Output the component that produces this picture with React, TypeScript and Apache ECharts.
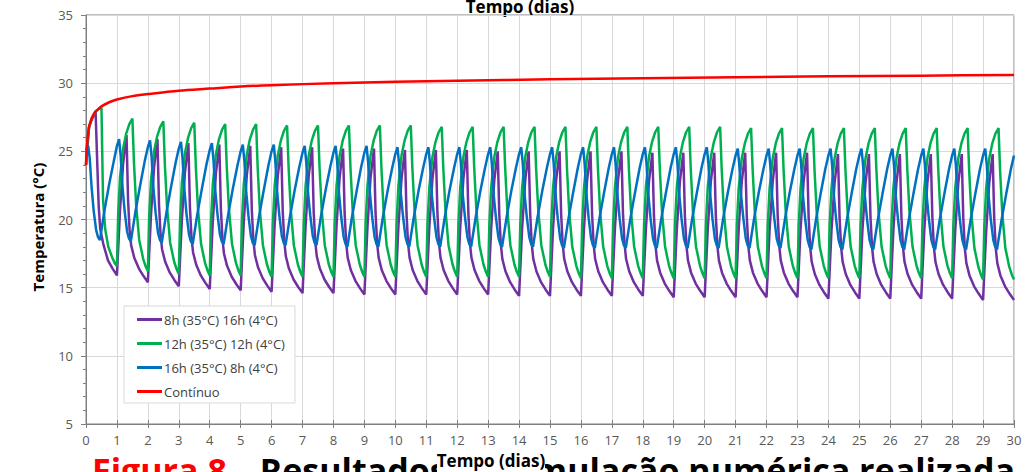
import { useEffect, useRef } from "react";
import * as echarts from "echarts";

const seriesNames = ["8h (35°C) 16h (4°C)", "12h (35°C) 12h (4°C)", "16h (35°C) 8h (4°C)", "Contínuo"];
const seriesColors = ["#7030A0", "#00B050", "#0070C0", "#FF0000"];

// position of each reading inside a day (fraction of day)
const purpleOffsets = [0, 0.1, 0.2, 0.31, 0.36, 0.41, 0.46, 0.56, 0.71, 0.86];
const purpleDays = [
  [24.0, 26.8, 27.4, 27.9, 24.4, 21.0, 19.3, 18.2, 17.0, 16.4],
  [15.9, 20.7, 24.1, 26.2, 21.4, 19.2, 18.1, 17.2, 16.4, 15.85],
  [15.4, 20.3, 23.8, 25.9, 21.1, 18.9, 17.8, 16.9, 16.1, 15.55],
  [15.1, 20.0, 23.5, 25.6, 20.9, 18.7, 17.6, 16.7, 15.9, 15.35],
  [14.9, 19.9, 23.4, 25.5, 20.8, 18.6, 17.5, 16.6, 15.8, 15.25],
  [14.8, 19.8, 23.3, 25.4, 20.7, 18.5, 17.4, 16.5, 15.7, 15.15],
  [14.7, 19.7, 23.2, 25.3, 20.6, 18.4, 17.3, 16.4, 15.6, 15.05],
  [14.6, 19.6, 23.2, 25.3, 20.6, 18.4, 17.3, 16.4, 15.6, 15.05],
  [14.6, 19.6, 23.1, 25.2, 20.5, 18.3, 17.2, 16.3, 15.5, 14.95],
  [14.5, 19.5, 23.1, 25.2, 20.5, 18.3, 17.2, 16.3, 15.5, 14.95],
  [14.5, 19.5, 23.0, 25.1, 20.5, 18.3, 17.2, 16.3, 15.5, 14.95],
  [14.5, 19.5, 23.0, 25.1, 20.5, 18.3, 17.2, 16.3, 15.5, 14.95],
  [14.5, 19.5, 23.0, 25.1, 20.5, 18.3, 17.2, 16.3, 15.5, 14.95],
  [14.5, 19.4, 22.9, 25.0, 20.4, 18.2, 17.1, 16.2, 15.4, 14.85],
  [14.4, 19.4, 22.9, 25.0, 20.4, 18.2, 17.1, 16.2, 15.4, 14.85],
  [14.4, 19.4, 22.9, 25.0, 20.4, 18.2, 17.1, 16.2, 15.4, 14.85],
  [14.4, 19.4, 22.9, 25.0, 20.4, 18.2, 17.1, 16.2, 15.4, 14.85],
  [14.4, 19.4, 22.9, 25.0, 20.4, 18.2, 17.1, 16.2, 15.4, 14.85],
  [14.4, 19.3, 22.8, 24.9, 20.3, 18.1, 17.0, 16.1, 15.3, 14.75],
  [14.3, 19.3, 22.8, 24.9, 20.3, 18.1, 17.0, 16.1, 15.3, 14.75],
  [14.3, 19.3, 22.8, 24.9, 20.3, 18.1, 17.0, 16.1, 15.3, 14.75],
  [14.3, 19.3, 22.8, 24.9, 20.3, 18.1, 17.0, 16.1, 15.3, 14.75],
  [14.3, 19.3, 22.8, 24.9, 20.3, 18.1, 17.0, 16.1, 15.3, 14.75],
  [14.3, 19.3, 22.8, 24.9, 20.2, 18.0, 16.9, 16.0, 15.2, 14.65],
  [14.2, 19.2, 22.7, 24.8, 20.2, 18.0, 16.9, 16.0, 15.2, 14.65],
  [14.2, 19.2, 22.7, 24.8, 20.2, 18.0, 16.9, 16.0, 15.2, 14.65],
  [14.2, 19.2, 22.7, 24.8, 20.2, 18.0, 16.9, 16.0, 15.2, 14.65],
  [14.2, 19.2, 22.7, 24.8, 20.2, 18.0, 16.9, 16.0, 15.2, 14.65],
  [14.2, 19.2, 22.7, 24.8, 20.1, 17.9, 16.8, 15.9, 15.1, 14.55],
  [14.1, 19.1, 22.7, 24.8, 20.1, 17.9, 16.8, 15.9, 15.1, 14.55],
];
const purpleEnd = 14.1;

const greenOffsets = [0, 0.04, 0.1, 0.2, 0.3, 0.4, 0.5, 0.55, 0.62, 0.72, 0.85, 0.93];
const greenDays = [
  [24.0, 25.6, 26.8, 27.5, 27.9, 28.1, 28.2, 21.5, 19.3, 18.0, 17.2, 16.8],
  [16.6, 20.4, 23.1, 25.2, 26.3, 27.0, 27.4, 24.2, 21.1, 18.5, 17.1, 16.55],
  [16.2, 20.1, 22.8, 25.0, 26.1, 26.8, 27.2, 24.0, 20.9, 18.3, 16.9, 16.35],
  [16.0, 19.9, 22.7, 24.9, 26.0, 26.7, 27.1, 23.9, 20.8, 18.2, 16.8, 16.25],
  [15.9, 19.8, 22.6, 24.8, 25.9, 26.6, 27.0, 23.9, 20.8, 18.2, 16.8, 16.25],
  [15.9, 19.8, 22.6, 24.8, 25.9, 26.6, 27.0, 23.8, 20.7, 18.1, 16.7, 16.15],
  [15.8, 19.7, 22.5, 24.7, 25.8, 26.5, 26.9, 23.8, 20.7, 18.1, 16.7, 16.15],
  [15.8, 19.7, 22.5, 24.7, 25.8, 26.5, 26.9, 23.8, 20.7, 18.1, 16.7, 16.15],
  [15.8, 19.7, 22.5, 24.7, 25.8, 26.5, 26.9, 23.8, 20.7, 18.1, 16.7, 16.15],
  [15.8, 19.7, 22.5, 24.7, 25.8, 26.5, 26.9, 23.8, 20.7, 18.1, 16.7, 16.15],
  [15.8, 19.7, 22.5, 24.7, 25.8, 26.5, 26.9, 23.8, 20.7, 18.1, 16.7, 16.15],
  [15.8, 19.7, 22.4, 24.6, 25.7, 26.4, 26.8, 23.8, 20.7, 18.1, 16.7, 16.15],
  [15.8, 19.7, 22.4, 24.6, 25.7, 26.4, 26.8, 23.8, 20.7, 18.1, 16.7, 16.15],
  [15.8, 19.7, 22.4, 24.6, 25.7, 26.4, 26.8, 23.8, 20.7, 18.1, 16.7, 16.15],
  [15.8, 19.7, 22.4, 24.6, 25.7, 26.4, 26.8, 23.8, 20.7, 18.1, 16.7, 16.15],
  [15.8, 19.7, 22.4, 24.6, 25.7, 26.4, 26.8, 23.7, 20.6, 18.0, 16.6, 16.05],
  [15.7, 19.6, 22.4, 24.6, 25.7, 26.4, 26.8, 23.7, 20.6, 18.0, 16.6, 16.05],
  [15.7, 19.6, 22.4, 24.6, 25.7, 26.4, 26.8, 23.7, 20.6, 18.0, 16.6, 16.05],
  [15.7, 19.6, 22.4, 24.6, 25.7, 26.4, 26.8, 23.7, 20.6, 18.0, 16.6, 16.05],
  [15.7, 19.6, 22.4, 24.6, 25.7, 26.4, 26.8, 23.7, 20.6, 18.0, 16.6, 16.05],
  [15.7, 19.6, 22.4, 24.6, 25.7, 26.4, 26.8, 23.7, 20.6, 18.0, 16.6, 16.05],
  [15.7, 19.6, 22.3, 24.5, 25.6, 26.3, 26.7, 23.7, 20.6, 18.0, 16.6, 16.05],
  [15.7, 19.6, 22.3, 24.5, 25.6, 26.3, 26.7, 23.7, 20.6, 18.0, 16.6, 16.05],
  [15.7, 19.6, 22.3, 24.5, 25.6, 26.3, 26.7, 23.7, 20.6, 18.0, 16.6, 16.05],
  [15.7, 19.6, 22.3, 24.5, 25.6, 26.3, 26.7, 23.7, 20.6, 18.0, 16.6, 16.05],
  [15.7, 19.6, 22.3, 24.5, 25.6, 26.3, 26.7, 23.7, 20.6, 18.0, 16.6, 16.05],
  [15.7, 19.6, 22.3, 24.5, 25.6, 26.3, 26.7, 23.7, 20.6, 18.0, 16.6, 16.05],
  [15.7, 19.6, 22.3, 24.5, 25.6, 26.3, 26.7, 23.7, 20.6, 18.0, 16.6, 16.05],
  [15.7, 19.6, 22.3, 24.5, 25.6, 26.3, 26.7, 23.6, 20.5, 17.9, 16.5, 15.95],
  [15.6, 19.5, 22.3, 24.5, 25.6, 26.3, 26.7, 23.6, 20.5, 17.9, 16.5, 15.95],
];
const greenEnd = 15.6;

const blueOffsets = [0, 0.07, 0.12, 0.18, 0.25, 0.33, 0.39, 0.45, 0.6, 0.75, 0.9];
const blueDays = [
  [25.1, 25.4, 24.5, 22.4, 20.6, 19.2, 18.7, 18.5, 20.7, 22.6, 24.3],
  [25.4, 25.9, 24.7, 22.4, 20.6, 19.1, 18.6, 18.4, 20.6, 22.5, 24.3],
  [25.3, 25.8, 24.6, 22.3, 20.5, 19.0, 18.5, 18.3, 20.5, 22.4, 24.2],
  [25.2, 25.7, 24.5, 22.2, 20.4, 18.9, 18.4, 18.2, 20.4, 22.3, 24.1],
  [25.1, 25.6, 24.4, 22.1, 20.4, 18.9, 18.4, 18.2, 20.4, 22.3, 24.0],
  [25.0, 25.5, 24.3, 22.0, 20.3, 18.8, 18.3, 18.1, 20.3, 22.2, 24.0],
  [25.0, 25.5, 24.3, 22.0, 20.3, 18.8, 18.3, 18.1, 20.3, 22.2, 23.9],
  [24.9, 25.4, 24.2, 21.9, 20.3, 18.8, 18.3, 18.1, 20.3, 22.2, 23.9],
  [24.9, 25.4, 24.2, 21.9, 20.2, 18.7, 18.2, 18.0, 20.2, 22.1, 23.9],
  [24.9, 25.4, 24.2, 21.9, 20.2, 18.7, 18.2, 18.0, 20.2, 22.1, 23.8],
  [24.8, 25.3, 24.1, 21.8, 20.2, 18.7, 18.2, 18.0, 20.2, 22.1, 23.8],
  [24.8, 25.3, 24.1, 21.8, 20.2, 18.7, 18.2, 18.0, 20.2, 22.1, 23.8],
  [24.8, 25.3, 24.1, 21.8, 20.2, 18.7, 18.2, 18.0, 20.2, 22.1, 23.8],
  [24.8, 25.3, 24.1, 21.8, 20.2, 18.7, 18.2, 18.0, 20.2, 22.1, 23.8],
  [24.8, 25.3, 24.1, 21.8, 20.2, 18.7, 18.2, 18.0, 20.2, 22.1, 23.8],
  [24.8, 25.3, 24.1, 21.8, 20.1, 18.6, 18.1, 17.9, 20.1, 22.0, 23.8],
  [24.8, 25.3, 24.1, 21.8, 20.1, 18.6, 18.1, 17.9, 20.1, 22.0, 23.8],
  [24.8, 25.3, 24.1, 21.8, 20.1, 18.6, 18.1, 17.9, 20.1, 22.0, 23.8],
  [24.8, 25.3, 24.1, 21.8, 20.1, 18.6, 18.1, 17.9, 20.1, 22.0, 23.8],
  [24.8, 25.3, 24.1, 21.8, 20.1, 18.6, 18.1, 17.9, 20.1, 22.0, 23.8],
  [24.8, 25.3, 24.1, 21.8, 20.1, 18.6, 18.1, 17.9, 20.1, 22.0, 23.7],
  [24.7, 25.2, 24.0, 21.7, 20.1, 18.6, 18.1, 17.9, 20.1, 22.0, 23.7],
  [24.7, 25.2, 24.0, 21.7, 20.1, 18.6, 18.1, 17.9, 20.1, 22.0, 23.7],
  [24.7, 25.2, 24.0, 21.7, 20.0, 18.5, 18.0, 17.8, 20.0, 21.9, 23.7],
  [24.7, 25.2, 24.0, 21.7, 20.0, 18.5, 18.0, 17.8, 20.0, 21.9, 23.7],
  [24.7, 25.2, 24.0, 21.7, 20.0, 18.5, 18.0, 17.8, 20.0, 21.9, 23.7],
  [24.7, 25.2, 24.0, 21.7, 20.0, 18.5, 18.0, 17.8, 20.0, 21.9, 23.7],
  [24.7, 25.2, 24.0, 21.7, 20.0, 18.5, 18.0, 17.8, 20.0, 21.9, 23.7],
  [24.7, 25.2, 24.0, 21.7, 20.0, 18.5, 18.0, 17.8, 20.0, 21.9, 23.7],
  [24.7, 25.2, 24.0, 21.7, 20.0, 18.5, 18.0, 17.8, 20.0, 21.9, 23.7],
];
const blueEnd = 24.7;

const redDays = [0, 0.02, 0.05, 0.1, 0.15, 0.2, 0.3, 0.4, 0.5, 0.75, 1, 1.5, 2, 3, 4, 5, 6, 8, 10, 12, 15, 18, 21, 24, 27, 30];
const redTemps = [24.0, 25.0, 25.9, 26.8, 27.2, 27.5, 27.9, 28.1, 28.3, 28.6, 28.8, 29.05, 29.2, 29.45, 29.6, 29.75, 29.85, 30.0, 30.1, 30.18, 30.28, 30.36, 30.43, 30.5, 30.55, 30.6];

const xTitle = "Tempo (dias)";
const yTitle = "Temperatura (°C)";
const captionLabel = "Figura 8";
const captionText = "– Resultados da simulação numérica realizada";

function cycleSeries(offsets: number[], rows: number[][], end: number) {
  const pts: number[][] = [];
  rows.forEach((row, day) => row.forEach((v, i) => pts.push([day + offsets[i], v])));
  pts.push([rows.length, end]);
  return pts;
}

export default function App() {
  const ref = useRef<HTMLDivElement>(null);
  useEffect(() => {
    const chart = echarts.init(ref.current!, null, { renderer: "svg" });
    const font = "'Open Sans', 'Liberation Sans', sans-serif";
    const dataSets = [
      cycleSeries(purpleOffsets, purpleDays, purpleEnd),
      cycleSeries(greenOffsets, greenDays, greenEnd),
      cycleSeries(blueOffsets, blueDays, blueEnd),
      redDays.map((d, i) => [d, redTemps[i]]),
    ];
    chart.setOption({
      animation: false,
      backgroundColor: "#ffffff",
      grid: { left: 86, right: 11, top: 15, bottom: 48, show: true, borderColor: "#808080", borderWidth: 1 },
      legend: {
        left: 124,
        top: 306,
        orient: "vertical",
        data: seriesNames,
        icon: "rect",
        itemWidth: 25,
        itemHeight: 3,
        itemGap: 11,
        padding: [7, 10, 5, 13],
        backgroundColor: "#ffffff",
        borderColor: "#d9d9d9",
        borderWidth: 1,
        textStyle: { fontSize: 13, color: "#404040", fontFamily: font, padding: [0, 0, 0, -3] },
      },
      xAxis: [
        {
          type: "value",
          min: 0,
          max: 30,
          interval: 1,
          axisLine: { show: true, lineStyle: { color: "#7f7f7f" } },
          axisTick: { show: true, length: 4, lineStyle: { color: "#7f7f7f" } },
          axisLabel: { margin: 9, fontSize: 13, color: "#595959", fontFamily: font },
          splitLine: { show: true, lineStyle: { color: "#d9d9d9" } },
        },
        {
          type: "value",
          position: "bottom",
          min: 0,
          max: 30,
          interval: 1,
          axisLine: { show: false },
          axisTick: { show: true, inside: true, length: 4, lineStyle: { color: "#7f7f7f" } },
          axisLabel: { show: false },
          splitLine: { show: false },
        },
      ],
      yAxis: {
        type: "value",
        min: 5,
        max: 35,
        interval: 5,
        axisLine: { show: true, lineStyle: { color: "#7f7f7f" } },
        axisTick: { show: true, length: 5, lineStyle: { color: "#7f7f7f" } },
        minorTick: { show: true, splitNumber: 5, length: 3, lineStyle: { color: "#7f7f7f" } },
        axisLabel: { margin: 13, fontSize: 13, color: "#595959", fontFamily: font },
        splitLine: { show: true, lineStyle: { color: "#d9d9d9" } },
      },
      series: dataSets.map((data, i) => ({
        name: seriesNames[i],
        type: "line",
        data,
        showSymbol: false,
        symbol: "none",
        smooth: i === 3 ? 0.3 : false,
        color: seriesColors[i],
        lineStyle: { width: 2.5, color: seriesColors[i] },
        clip: true,
      })),
      graphic: [
        {
          type: "text",
          style: { text: xTitle, x: 520, y: -2, align: "center", textAlign: "center", verticalAlign: "top", textVerticalAlign: "top", font: `bold 17px ${font}`, fill: "#000" },
        },
        {
          type: "text",
          x: 38,
          y: 227,
          rotation: Math.PI / 2,
          style: { text: yTitle, x: 0, y: 0, align: "center", textAlign: "center", verticalAlign: "middle", textVerticalAlign: "middle", font: `bold 15px ${font}`, fill: "#000" },
        },
        {
          type: "text",
          style: { text: captionLabel, x: 92, y: 453, align: "left", verticalAlign: "top", font: `bold 34px ${font}`, fill: "#ff0000" },
        },
        {
          type: "text",
          style: { text: captionText, x: 234, y: 453, align: "left", verticalAlign: "top", font: `bold 34px ${font}`, fill: "#000" },
        },
        {
          type: "rect",
          shape: { x: 437, y: 453, width: 108, height: 19 },
          style: { fill: "#ffffff" },
        },
        {
          type: "text",
          style: { text: xTitle, x: 491, y: 452, align: "center", textAlign: "center", verticalAlign: "top", textVerticalAlign: "top", font: `bold 17px ${font}`, fill: "#000" },
        },
      ],
    });
    return () => chart.dispose();
  }, []);
  return (
    <div style={{ position: "fixed", left: 0, top: 0, width: 1025, height: 472, overflow: "hidden", background: "#fff" }}>
      <div ref={ref} style={{ width: 1025, height: 472 }} />
    </div>
  );
}
